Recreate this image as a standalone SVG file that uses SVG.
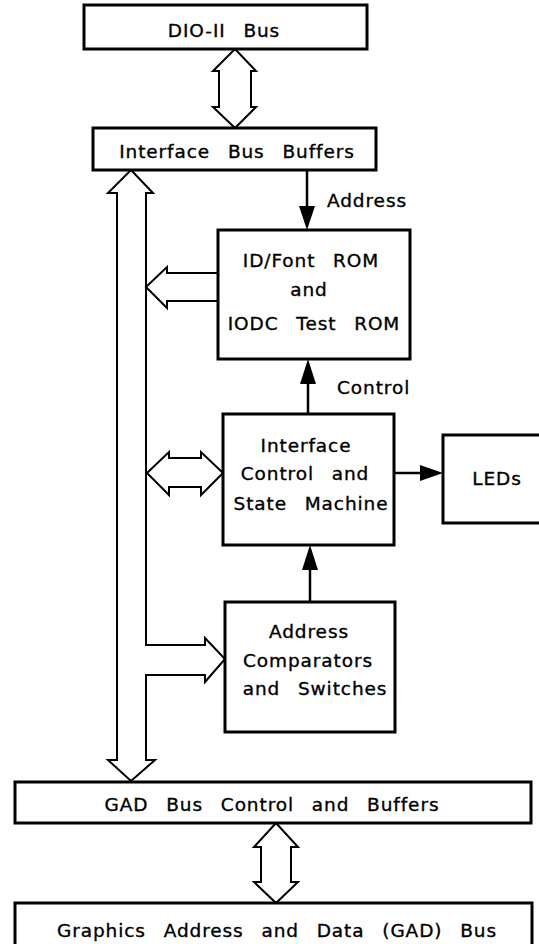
<svg xmlns="http://www.w3.org/2000/svg" width="539" height="944" viewBox="0 0 539 944">
<style>
.box{fill:#fff;stroke:#000;stroke-width:3}
.bus{fill:#fff;stroke:#000;stroke-width:2;stroke-linejoin:miter}
.ln{fill:none;stroke:#000;stroke-width:2.5}
.hd{fill:#000;stroke:none}
text{font-family:"DejaVu Sans","Liberation Sans",sans-serif;font-size:18.5px;fill:#000;stroke:#000;stroke-width:0.35;letter-spacing:0.9px;word-spacing:11px}
.c{text-anchor:middle}
</style>
<rect x="0" y="0" width="539" height="944" fill="#fff"/>
<g id="connectors">
<polygon class="bus" points="235,49 256,71 251,71 251,107 256,107 235,128 213,107 219,107 219,71 213,71"/>
<polygon class="bus" points="276,823 298,847 291,847 291,882 298,882 276,903 254,882 261,882 261,847 254,847"/>
<polygon class="bus" points="131,170 153,193 146,193 146,645 205,645 205,638 225,659 205,682 205,675 146,675 146,760 155,760 131,781 108,760 117,760 117,193 108,193"/>
<polyline class="bus" points="218,273 167,273 167,267 146,287 167,308 167,301 218,301"/>
<polygon class="bus" points="147,473 169,452 169,458 201,458 201,452 223,473 201,495 201,487 169,487 169,495"/>
<line class="ln" x1="307" y1="170" x2="307" y2="208"/>
<polygon class="hd" points="299,206 315,206 307,230"/>
<line class="ln" x1="308" y1="414" x2="308" y2="382"/>
<polygon class="hd" points="300,384 316,384 308,359"/>
<line class="ln" x1="310" y1="602" x2="310" y2="568"/>
<polygon class="hd" points="302,570 318,570 310,545"/>
<line class="ln" x1="394" y1="473" x2="422" y2="473"/>
<polygon class="hd" points="420,465 420,481 443,473"/>
<text x="327" y="207">Address</text>
<text x="337" y="394">Control</text>
</g>
<g id="dio-bus">
<rect class="box" x="84" y="5" width="283" height="44"/>
<text class="c" x="224" y="37">DIO-II Bus</text>
</g>
<g id="interface-bus-buffers">
<rect class="box" x="93" y="128" width="283" height="42"/>
<text class="c" x="237" y="158">Interface Bus Buffers</text>
</g>
<g id="rom">
<rect class="box" x="218" y="230" width="192" height="129"/>
<text class="c" x="311" y="267">ID/Font ROM</text>
<text class="c" x="309" y="296">and</text>
<text class="c" x="314" y="330">IODC Test ROM</text>
</g>
<g id="interface-control">
<rect class="box" x="223" y="414" width="171" height="131"/>
<text class="c" x="306" y="452">Interface</text>
<text class="c" x="305" y="480">Control and</text>
<text class="c" x="311" y="510">State Machine</text>
</g>
<g id="leds">
<rect class="box" x="443" y="435" width="110" height="88"/>
<text class="c" x="497" y="485">LEDs</text>
</g>
<g id="address-comparators">
<rect class="box" x="225" y="602" width="170" height="130"/>
<text class="c" x="309" y="638">Address</text>
<text class="c" x="308" y="667">Comparators</text>
<text class="c" x="315" y="695">and Switches</text>
</g>
<g id="gad-bus-control">
<rect class="box" x="15" y="782" width="516" height="41"/>
<text class="c" x="272" y="811">GAD Bus Control and Buffers</text>
</g>
<g id="gad-bus">
<rect class="box" x="15" y="903" width="517" height="50"/>
<text class="c" x="277" y="937">Graphics Address and Data (GAD) Bus</text>
</g>
</svg>
